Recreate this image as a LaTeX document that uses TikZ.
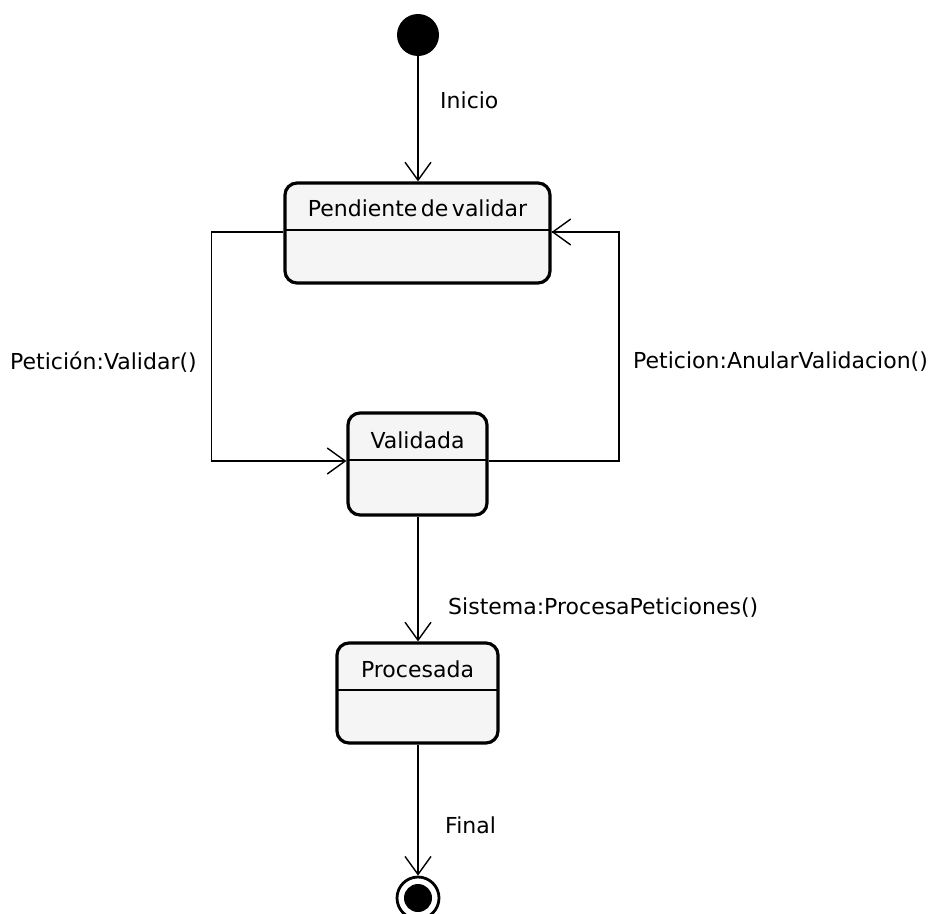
\documentclass[tikz,border=0pt]{standalone}
\usepackage{fontspec}
\setmainfont[WordSpace=0.5]{DejaVu Sans}
\usetikzlibrary{arrows.meta}
\definecolor{statefill}{HTML}{F5F5F5}
\begin{document}
\begin{tikzpicture}[x=1pt,y=-1pt,
  statebox/.style={draw=black, line width=3.2pt, rounded corners=12pt, fill=statefill, inner sep=0pt},
  divider/.style={draw=black, line width=1.5pt},
  title/.style={font=\fontsize{22}{26}\selectfont, inner sep=0pt},
  lbl/.style={font=\fontsize{22}{26}\selectfont, inner sep=0pt, anchor=west},
  conn/.style={draw=black, line width=1.5pt, -{Straight Barb[length=18pt,width=26pt,line width=1.4pt]}},
  plain/.style={draw=black, line width=1.5pt}]
\useasboundingbox (0,0) rectangle (928,913);

% initial and final pseudo-states
\node[circle, fill=black, minimum size=42pt, inner sep=0pt] (init) at (418,35) {};
\node[circle, draw=black, line width=2.8pt, fill=white, minimum size=42pt, inner sep=0pt] (fin) at (418,898) {};
\node[circle, fill=black, minimum size=28pt, inner sep=0pt] (finc) at (418,898) {};

% states with a name compartment and an empty body
\node[statebox, minimum width=265pt, minimum height=100pt] (pend) at (417.5,233) {};
\draw[divider] (285,230) -- (550,230);
\node[title] (pendt) at (417.5,208) {Pendiente de validar};

\node[statebox, minimum width=139pt, minimum height=102pt] (valid) at (417.5,464) {};
\draw[divider] (348,460) -- (487,460);
\node[title] (validt) at (417.5,440) {Validada};

\node[statebox, minimum width=161pt, minimum height=100pt] (proc) at (417.5,693) {};
\draw[divider] (337,690) -- (498,690);
\node[title] (proct) at (417.5,669) {Procesada};

% transitions
\draw[conn] (init) -- (pend.north -| init);
\draw[conn] ([yshift=1pt]pend.west) -- ++(-72,0) |- ([yshift=3pt]valid.west);
\draw[plain] ([yshift=3pt]valid.east) -- (619,461) |- ([yshift=1pt]pend.east);
\draw[conn] (619,232) -- ([yshift=1pt]pend.east);
\draw[conn] (valid.south -| init) -- (proc.north -| init);
\draw[conn] (proc.south -| init) -- (fin.north);

% transition labels
\node[lbl] (linicio) at (440,100) {Inicio};
\node[lbl] (lvalidar) at (10,362) {Petición:Validar()};
\node[lbl] (lanular) at (633,362) {Peticion:AnularValidacion()};
\node[lbl] (lsistema) at (448,608) {Sistema:ProcesaPeticiones()};
\node[lbl] (lfinal) at (445,825) {Final};
\end{tikzpicture}
\end{document}
